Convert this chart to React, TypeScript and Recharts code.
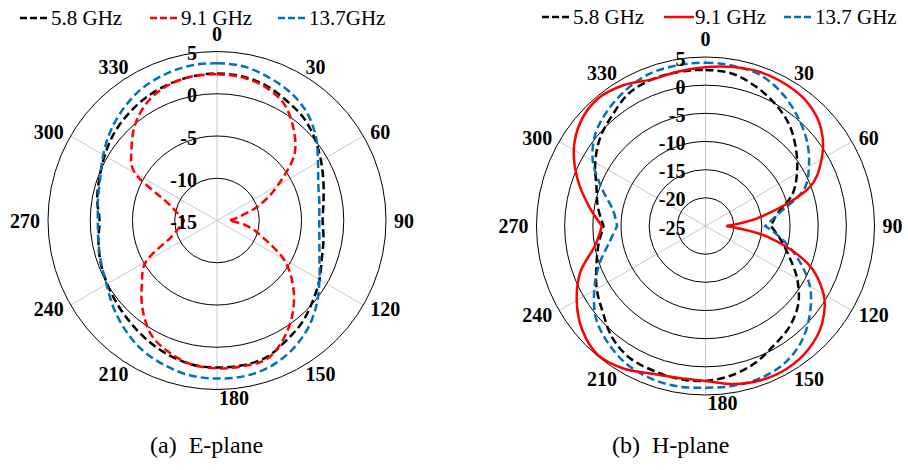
import React from 'react';
import { RadarChart, Radar, PolarGrid, PolarAngleAxis, PolarRadiusAxis } from 'recharts';

// angle of each sample, degrees clockwise from the top
const angles = [
  0, 10, 20, 30, 40, 50, 60, 70, 80, 90, 100, 110, 120, 130, 140, 150, 160, 170,
  180, 190, 200, 210, 220, 230, 240, 250, 260, 270, 280, 290, 300, 310, 320, 330, 340, 350,
];

// E-plane gain (dB)
const eBlack = [2.4, 2.3, 2.0, 1.4, 0.9, 0.1, -0.8, -1.6, -2.2, -2.5, -2.2, -1.8, -1.0, -0.2, 0.7, 1.4, 2.2, 2.4, 2.4, 2.3, 1.9, 1.4, 0.85, 0.4, 0.0, -0.35, -0.75, -1.1, -0.6, -0.2, 0.35, 0.95, 1.4, 1.8, 2.1, 2.3];
const eRed = [2.3, 2.2, 1.8, 0.9, -0.9, -3.1, -6.7, -9.6, -12.3, -13.6, -11.4, -9.3, -5.9, -3.3, -1.0, 0.95, 2.4, 2.5, 2.5, 2.3, 1.6, 0.6, -1.3, -3.4, -5.3, -9.2, -10.5, -11.1, -10.3, -8.7, -3.8, -1.8, 0.0, 1.3, 2.0, 2.3];
const eBlue = [3.6, 3.5, 3.0, 2.45, 1.6, 0.3, -1.2, -2.25, -2.7, -2.9, -2.7, -2.1, -1.0, 0.4, 1.7, 2.7, 3.4, 3.7, 3.7, 3.6, 3.2, 2.7, 1.9, 1.0, 0.1, -0.4, -0.75, -0.9, -0.7, -0.3, 0.55, 1.45, 2.25, 2.95, 3.35, 3.6];

// H-plane gain (dB)
const hBlack = [2.7, 2.45, 1.3, -0.1, -1.75, -4.0, -6.25, -8.6, -12.0, -13.4, -11.5, -9.2, -6.2, -3.5, -1.75, -0.6, 0.85, 1.9, 2.5, 2.55, 2.3, 2.0, 0.8, -1.2, -2.7, -4.4, -5.7, -6.9, -5.6, -4.4, -2.4, -0.6, 0.7, 2.2, 2.7, 2.75];
const hRed = [3.2, 3.65, 4.0, 3.9, 3.4, 1.8, -1.2, -5.6, -14.6, -21.3, -13.8, -5.8, -0.8, 2.0, 3.5, 4.15, 4.1, 3.5, 2.5, 2.4, 2.9, 4.2, 4.8, 3.6, 1.4, -1.4, -5.1, -6.6, -3.9, -0.85, 2.0, 3.9, 4.6, 3.9, 2.7, 2.85];
const hBlue = [4.0, 3.85, 3.5, 2.2, 0.4, -1.5, -3.8, -6.5, -11.7, -14.4, -11.1, -7.4, -3.6, -0.8, 1.6, 3.1, 3.7, 3.8, 3.7, 3.9, 3.75, 3.2, 2.0, 0.4, -2.2, -4.9, -7.6, -9.3, -8.3, -5.4, -1.9, 0.5, 1.9, 3.0, 3.8, 3.95];

const eTicks = [-15, -10, -5, 0, 5];
const hTicks = [-25, -20, -15, -10, -5, 0, 5];

const FONT = '"Liberation Serif", "Times New Roman", serif';
const BLUE = '#0070c0';
const RED = '#ff0000';

// gray spokes every 60 deg (recharts polar angles)
const spokeAngles = [90, 30, -30, -90, -150, -210];

const makeRows = (black: number[], red: number[], blue: number[]) =>
  angles.map((angle, i) => ({ angle, f58: black[i], f91: red[i], f137: blue[i] }));

const eRows = makeRows(eBlack, eRed, eBlue);
const hRows = makeRows(hBlack, hRed, hBlue);

// closed catmull-rom through the points recharts computed; sharp dips stay corners
function smoothPath(points: any[]) {
  const n = points.length;
  if (!n) return '';
  const at = (i: number) => points[(i + n) % n];
  const tangent = (i: number) => {
    const p = at(i);
    const a = at(i - 1);
    const b = at(i + 1);
    if (p.radius < 0.95 * Math.min(a.radius, b.radius)) return { x: 0, y: 0 };
    return { x: (b.x - a.x) / 6, y: (b.y - a.y) / 6 };
  };
  let d = `M${at(0).x},${at(0).y}`;
  for (let i = 0; i < n; i++) {
    const p1 = at(i);
    const p2 = at(i + 1);
    const t1 = tangent(i);
    const t2 = tangent(i + 1);
    d += ` C${p1.x + t1.x},${p1.y + t1.y} ${p2.x - t2.x},${p2.y - t2.y} ${p2.x},${p2.y}`;
  }
  return d + ' Z';
}

const smoothShape = (color: string, dash?: string) => (props: any) => (
  <path d={smoothPath(props.points || [])} stroke={color} strokeWidth={2.5}
    strokeDasharray={dash} fill="none" />
);

function AngleTick(props: any) {
  const { x, y, payload, textAnchor } = props;
  const v = Number(payload.value);
  if (v % 30 !== 0) return <g />;
  let anchor = textAnchor;
  let dx = 0;
  let dy = 0;
  if (v === 0) dy = -10;
  if (v === 180) {
    anchor = 'start';
    dx = 2;
  }
  return (
    <text x={x + dx} y={y + dy} textAnchor={anchor} dominantBaseline="central"
      fontFamily={FONT} fontWeight="bold" fontSize={20} fill="#000">
      {v}
    </text>
  );
}

function RadiusTick(props: any) {
  const { x, y, payload } = props;
  return (
    <text x={x - 20} y={y + 1.5} textAnchor="end" dominantBaseline="central"
      fontFamily={FONT} fontWeight="bold" fontSize={20} fill="#000">
      {payload.value}
    </text>
  );
}

function PolarPlot({ rows, ticks, cx, cy, redDash }: any) {
  return (
    <RadarChart width={454} height={430} data={rows} cx={cx} cy={cy} outerRadius={169}
      startAngle={90} endAngle={-270} margin={{ top: 0, right: 0, bottom: 0, left: 0 }}>
      <PolarGrid gridType="circle" polarAngles={spokeAngles} polarRadius={[]} stroke="#c8c8c8" strokeWidth={1} />
      <PolarGrid gridType="circle" radialLines={false} stroke="#000" strokeWidth={1} />
      <PolarAngleAxis dataKey="angle" axisLine={false} tickLine={false} tick={(p: any) => <AngleTick {...p} />} />
      <PolarRadiusAxis angle={90} type="number" domain={[ticks[0], ticks[ticks.length - 1]]}
        ticks={ticks} tickCount={ticks.length} axisLine={false} tickLine={false}
        tick={(p: any) => <RadiusTick {...p} />} />
      <Radar dataKey="f58" stroke="#000" fill="none" fillOpacity={0} dot={false}
        shape={smoothShape('#000', '8 4')} isAnimationActive={false} />
      <Radar dataKey="f137" stroke={BLUE} fill="none" fillOpacity={0} dot={false}
        shape={smoothShape(BLUE, '8 4')} isAnimationActive={false} />
      <Radar dataKey="f91" stroke={RED} fill="none" fillOpacity={0} dot={false}
        shape={smoothShape(RED, redDash ? '8 4' : undefined)} isAnimationActive={false} />
    </RadarChart>
  );
}

function LegendItem({ x, y, color, dashed, label }: any) {
  return (
    <g>
      <line x1={x} y1={y} x2={x + 30} y2={y} stroke={color} strokeWidth={2.5}
        strokeDasharray={dashed ? '7 3' : undefined} />
      <text x={x + 31} y={y + 7} fontFamily={FONT} fontSize={21} fill="#000">{label}</text>
    </g>
  );
}

export default function App() {
  return (
    <div style={{ position: 'absolute', left: 0, top: 0, width: 908, height: 470, background: '#fff' }}>
      <div style={{ position: 'absolute', left: 0, top: 0 }}>
        <PolarPlot rows={eRows} ticks={eTicks} cx={217} cy={220.5} redDash />
      </div>
      <div style={{ position: 'absolute', left: 454, top: 0 }}>
        <PolarPlot rows={hRows} ticks={hTicks} cx={251.5} cy={226} redDash={false} />
      </div>
      <svg width={908} height={32} style={{ position: 'absolute', left: 0, top: 0 }}>
        <LegendItem x={20} y={18} color="#000" dashed label="5.8 GHz" />
        <LegendItem x={150} y={18} color={RED} dashed label="9.1 GHz" />
        <LegendItem x={278} y={18} color={BLUE} dashed label="13.7GHz" />
        <LegendItem x={542} y={17} color="#000" dashed label="5.8 GHz" />
        <LegendItem x={664} y={17} color={RED} dashed={false} label="9.1 GHz" />
        <LegendItem x={784} y={17} color={BLUE} dashed label="13.7 GHz" />
      </svg>
      <div style={{ position: 'absolute', left: 150, top: 430, fontFamily: FONT, fontSize: 24, lineHeight: '30px', whiteSpace: 'pre' }}>
        (a)  E-plane
      </div>
      <div style={{ position: 'absolute', left: 612, top: 430, fontFamily: FONT, fontSize: 24, lineHeight: '30px', whiteSpace: 'pre' }}>
        (b)  H-plane
      </div>
    </div>
  );
}
